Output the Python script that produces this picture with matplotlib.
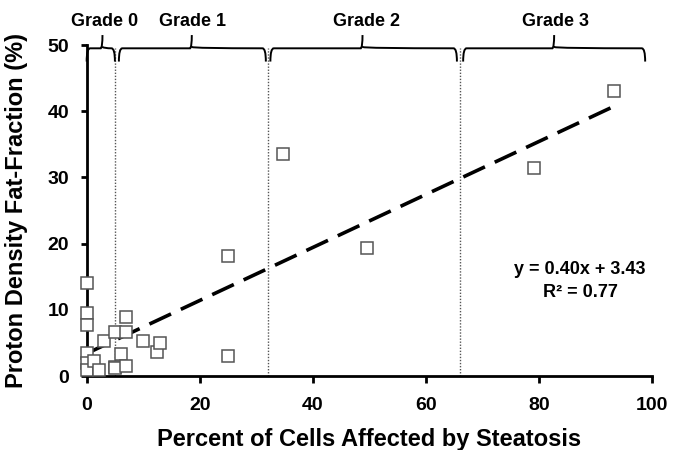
import matplotlib
matplotlib.use("Agg")
import matplotlib.pyplot as plt
from matplotlib.path import Path
from matplotlib.patches import PathPatch
import numpy as np

# ----------------------------- data -----------------------------#
pct_cells = [0, 0, 0, 0, 0, 0, 1.3, 2.2, 3.1, 5.1, 5.1, 5.1, 6.0, 7.0, 7.0, 7.0,
             10.0, 12.5, 13.0, 25.0, 25.0, 34.7, 49.6, 79.2, 93.2]
pdff = [14.0, 9.6, 7.8, 3.5, 2.0, 1.0, 2.3, 1.0, 5.3, 6.7, 1.4, 1.2, 3.3, 8.9, 6.7, 1.6,
        5.3, 3.7, 5.0, 18.2, 3.0, 33.5, 19.4, 31.5, 43.0]

fit_slope = 0.40
fit_icpt = 3.43
fit_x = [0, 93.2]

grade_labels = ["Grade 0", "Grade 1", "Grade 2", "Grade 3"]
grade_lo = [0, 5.7, 32.5, 66.6]
grade_hi = [5.0, 31.7, 65.5, 98.8]
grade_tip = [2.8, 18.6, 48.8, 82.7]
label_x = [3.2, 18.8, 49.5, 83.0]
grade_cuts = [5, 32, 66]

xticks = [0, 20, 40, 60, 80, 100]
yticks = [0, 10, 20, 30, 40, 50]

plt.rcParams["font.family"] = ["Liberation Sans", "DejaVu Sans"]
plt.rcParams["font.weight"] = "bold"

fig = plt.figure(figsize=(6.77, 4.5), dpi=100)
ax = fig.add_axes([0.128, 0.164, 0.835, 0.736])

# grade cut-offs
for c in grade_cuts:
    ax.plot([c, c], [0, 49.5], color="#555555", lw=1, ls=(0, (1, 1.2)), zorder=1)

# points
ax.plot(pct_cells, pdff, ls="none", marker="s", ms=8, mfc="white",
        mec="#555555", mew=1.1, clip_on=False, zorder=3)

# trend line
fx = np.array(fit_x)
ax.plot(fx, fit_slope * fx + fit_icpt, color="black", lw=2.6,
        ls=(0, (6.6, 3.0)), zorder=2)

ax.text(87.3, 16.1, "y = 0.40x + 3.43", ha="center", va="center", fontsize=13, fontweight="bold")
ax.text(87.3, 12.6, "R\u00b2 = 0.77", ha="center", va="center", fontsize=13, fontweight="bold")

# braces on top
y_line, y_end, y_tip, r = 49.5, 47.5, 51.5, 0.6
for lab, lo, hi, tip, lx in zip(grade_labels, grade_lo, grade_hi, grade_tip, label_x):
    verts = [(lo, y_end), (lo, y_line), (lo + r, y_line),
             (tip - 0.3, y_line), (tip, y_line + 0.2), (tip, y_tip),
             (tip, y_line + 0.2), (tip + 0.3, y_line),
             (hi - r, y_line), (hi, y_line), (hi, y_end)]
    codes = [Path.MOVETO, Path.CURVE3, Path.CURVE3,
             Path.LINETO, Path.CURVE3, Path.LINETO,
             Path.MOVETO, Path.CURVE3,
             Path.LINETO, Path.CURVE3, Path.CURVE3]
    ax.add_patch(PathPatch(Path(verts, codes), fill=False, lw=1.4,
                           ec="black", clip_on=False))
    ax.text(lx, 53.5, lab, ha="center", va="center", fontsize=13,
            fontweight="bold")

ax.set_xlim(0, 100)
ax.set_ylim(0, 50)
ax.set_xticks(xticks)
ax.set_yticks(yticks)
for s in ["top", "right"]:
    ax.spines[s].set_visible(False)
for s in ["left", "bottom"]:
    ax.spines[s].set_linewidth(2)
ax.tick_params(width=2, length=5, labelsize=14)
ax.tick_params(axis="x", pad=10)
ax.tick_params(axis="y", length=4.5, pad=8)
for t in ax.get_xticklabels() + ax.get_yticklabels():
    t.set_fontweight("bold")

ax.set_xlabel("Percent of Cells Affected by Steatosis", fontsize=17,
              fontweight="bold", labelpad=10)
ax.set_ylabel("Proton Density Fat-Fraction (%)", fontsize=17,
              fontweight="bold", labelpad=14)

fig.savefig("out.png", dpi=100)
